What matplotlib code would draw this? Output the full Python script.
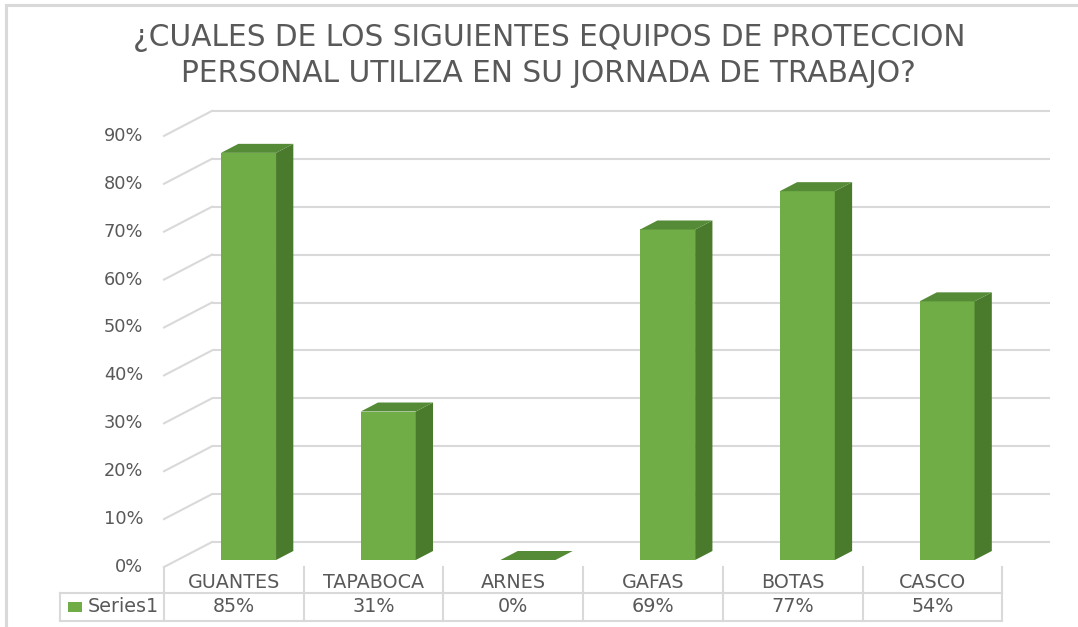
import matplotlib
matplotlib.use("Agg")
import matplotlib.pyplot as plt
from matplotlib.patches import Polygon, Rectangle

# ---- data ----
categories = ["GUANTES", "TAPABOCA", "ARNES", "GAFAS", "BOTAS", "CASCO"]
values = [85, 31, 0, 69, 77, 54]
series_name = "Series1"
yticks = [0, 10, 20, 30, 40, 50, 60, 70, 80, 90]
title_lines = ["¿CUALES DE LOS SIGUIENTES EQUIPOS DE PROTECCION",
               "PERSONAL UTILIZA EN SU JORNADA DE TRABAJO?"]

# ---- style ----
FRONT = "#70AD47"
SIDE = "#4A7A2C"
TOP = "#558A37"
GRID = "#D9D9D9"
TXT = "#595959"
FONT = "DejaVu Sans"

W, H = 1078, 627
fig = plt.figure(figsize=(W / 100, H / 100), dpi=100)
ax = fig.add_axes([0, 0, 1, 1])

# pixel geometry of the reference -> data scale
col_px = 139.7      # px per category
pct_px = 4.79       # px per percent
left_px = 164       # px of x = -0.5
zero_px = 567       # px of y = 0 (front floor)
ax.set_xlim(-0.5 - left_px / col_px, -0.5 + (W - left_px) / col_px)
ax.set_ylim(-(H - zero_px) / pct_px, zero_px / pct_px)
ax.axis("off")

n = len(categories)
dxf = 48 / col_px   # floor depth (x)
dyf = 25 / pct_px   # floor depth (y)
f1, f2 = 0.28, 0.64  # bar front / back depth fraction
bw = 55 / col_px
px_x = 1 / col_px
px_y = 1 / pct_px

# back wall gridlines + left wall diagonals
for t in yticks:
    ax.plot([-0.5 + dxf, n - 0.5 + dxf], [t + dyf, t + dyf], color=GRID, lw=1.5,
            solid_capstyle="butt", zorder=1)
    ax.plot([-0.5, -0.5 + dxf], [t, t + dyf], color=GRID, lw=1.5, zorder=1)
    ax.text(-0.5 - 21 * px_x, t, f"{t}%", ha="right", va="center",
            fontsize=12.8, color=TXT, family=FONT)

# bars
ddx = (f2 - f1) * dxf
ddy = (f2 - f1) * dyf
for i, v in enumerate(values):
    x0 = i - 0.5 + 43.6 * px_x + f1 * dxf
    x1 = x0 + bw
    yb = f1 * dyf
    yt = yb + v
    if v > 0:
        ax.add_patch(Polygon([(x0, yb), (x1, yb), (x1, yt), (x0, yt)],
                             closed=True, facecolor=FRONT, edgecolor="none", zorder=3))
        ax.add_patch(Polygon([(x1, yb), (x1 + ddx, yb + ddy), (x1 + ddx, yt + ddy), (x1, yt)],
                             closed=True, facecolor=SIDE, edgecolor="none", zorder=3))
    ax.add_patch(Polygon([(x0, yt), (x1, yt), (x1 + ddx, yt + ddy), (x0 + ddx, yt + ddy)],
                         closed=True, facecolor=TOP, edgecolor="none", zorder=4))

# data table
row1_top = 0
row_mid = -(593 - zero_px) * px_y
row_bot = -(621 - zero_px) * px_y
tbl_left = -0.5 - (left_px - 60) * px_x
for k in range(n + 1):
    ax.plot([k - 0.5, k - 0.5], [row1_top, row_bot], color=GRID, lw=1.5, zorder=1)
ax.plot([tbl_left, n - 0.5], [row_mid, row_mid], color=GRID, lw=1.5, zorder=1)
ax.plot([tbl_left, n - 0.5], [row_bot, row_bot], color=GRID, lw=1.5, zorder=1)
ax.plot([tbl_left, tbl_left], [row_mid, row_bot], color=GRID, lw=1.5, zorder=1)

ycat = -(583 - zero_px) * px_y
yval = -(607 - zero_px) * px_y
for i, (c, v) in enumerate(zip(categories, values)):
    ax.text(i, ycat, c, ha="center", va="center", fontsize=13.8, color=TXT, family=FONT)
    ax.text(i, yval, f"{v}%", ha="center", va="center", fontsize=13.8, color=TXT, family=FONT)

ax.add_patch(Rectangle((tbl_left + 8 * px_x, -(612 - zero_px) * px_y), 14 * px_x, 10 * px_y,
                       facecolor=FRONT, edgecolor="none"))
ax.text(tbl_left + 28 * px_x, yval, series_name, ha="left", va="center",
        fontsize=13.8, color=TXT, family=FONT)

# title
fig.text(549 / W, 1 - 38 / H, title_lines[0], ha="center", va="center",
         fontsize=21.3, color=TXT, family=FONT)
fig.text(548 / W, 1 - 73 / H, title_lines[1], ha="center", va="center",
         fontsize=21.3, color=TXT, family=FONT)

# chart border (left and top visible)
fig.add_artist(plt.Line2D([6 / W, 6 / W], [0, 1 - 5 / H], color=GRID, lw=2.2))
fig.add_artist(plt.Line2D([6 / W, 1], [1 - 5 / H, 1 - 5 / H], color=GRID, lw=2.2))

fig.savefig("out.png", dpi=100, facecolor="white")
